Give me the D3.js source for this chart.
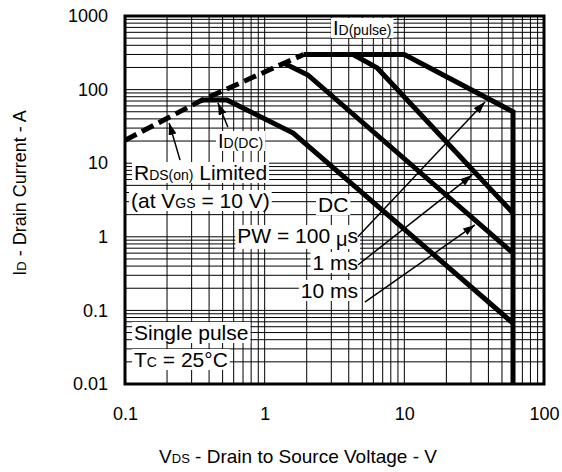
<!DOCTYPE html>
<html>
<head>
<meta charset="utf-8">
<script src="https://cdn.jsdelivr.net/npm/d3@7"></script>
<style>
  body { margin: 0; background: #fff; }
  text { font-family: "Liberation Sans", Arial, sans-serif; fill: #000; }
</style>
</head>
<body>
<script>
// tick labels
const xTicks = [0.1, 1, 10, 100];
const yTicks = [0.01, 0.1, 1, 10, 100, 1000];

// safe operating area curves, [VDS, ID]
const rdsLimit = [[0.1, 20.5], [0.356, 72], [1.9, 300]];
const pw100us = [[1.9, 300], [10, 300], [60, 50], [60, 0.01]];
const pw1ms = [[4.3, 300], [6.4, 197], [60, 2.1]];
const pw10ms = [[1.4, 224], [2.04, 158], [60, 0.6]];
const dcLine = [[0.356, 72], [0.537, 72], [1.6, 25.7], [60, 0.067]];

// arrows [tail, tip]
const arrows = [
  [[0.248, 11.0], [0.207, 35.2]],
  [[0.545, 31], [0.463, 65.8]],
  [[4.65, 1.0], [37.8, 67.8]],
  [[4.65, 0.414], [30.5, 6.9]],
  [[5.22, 0.13], [32, 1.45]]
];

const svgWidth = 562;
const svgHeight = 472;

const svg = d3.select("body")
    .append("svg")
    .attr("width", svgWidth)
    .attr("height", svgHeight);

const x = d3.scaleLog().domain([0.1, 100]).range([125, 544]);
const y = d3.scaleLog().domain([0.01, 1000]).range([384, 16]);

svg.append("clipPath").attr("id", "plot")
    .append("rect")
    .attr("x", 125).attr("y", 16)
    .attr("width", 419).attr("height", 368);

// grid
const grid = svg.append("g").attr("stroke", "#000").attr("stroke-width", 1);
grid.selectAll(".vx")
    .data(x.ticks())
    .enter()
    .append("line")
    .attr("x1", d => x(d)).attr("x2", d => x(d))
    .attr("y1", y(1000)).attr("y2", y(0.01));
grid.selectAll(".hy")
    .data(y.ticks())
    .enter()
    .append("line")
    .attr("y1", d => y(d)).attr("y2", d => y(d))
    .attr("x1", x(0.1)).attr("x2", x(100));

const line = d3.line().x(d => x(d[0])).y(d => y(d[1]));

const curves = svg.append("g").attr("clip-path", "url(#plot)");
[pw100us, pw1ms, pw10ms, dcLine].forEach(c => {
    curves.append("path")
        .attr("d", line(c))
        .attr("fill", "none")
        .attr("stroke", "#000")
        .attr("stroke-width", 5)
        .attr("stroke-linejoin", "miter");
});
curves.append("path")
    .attr("d", line(rdsLimit))
    .attr("fill", "none")
    .attr("stroke", "#000")
    .attr("stroke-width", 5)
    .attr("stroke-dasharray", "13,6");

// text labels with white backing
function label(px, py, parts, anchor, size) {
    const g = svg.append("g");
    const t = g.append("text")
        .attr("x", px).attr("y", py)
        .attr("text-anchor", anchor || "start");
    parts.forEach(p => {
        const s = t.append("tspan")
            .attr("font-size", p[1] || size)
            .text(p[0]);
        if (p[2]) s.attr("dy", p[2]);
    });
    const b = t.node().getBBox();
    g.insert("rect", "text")
        .attr("x", b.x - 2).attr("y", b.y + 1)
        .attr("width", b.width + 4).attr("height", b.height - 2)
        .attr("fill", "#fff");
}

label(333, 35, [["I", 20], ["D(pulse)", 14]]);
label(218, 148, [["I", 20], ["D(DC)", 14]]);
label(134, 180, [["R", 21], ["DS(on)", 14], [" Limited", 21]]);
label(131, 208, [["(at V", 21], ["GS", 14], [" = 10 V)", 21]]);
label(318, 212, [["DC", 21]]);
label(358, 243, [["PW = 100 ", 21], ["\u03bc", 20, 3], ["s", 21, -3]], "end");
label(358, 270, [["1 ms", 21]], "end");
label(358, 298, [["10 ms", 21]], "end");
label(134, 340, [["Single pulse", 21]]);
label(134, 367, [["T", 21], ["C", 14], [" = 25\u00b0C", 21]]);

// arrows
svg.append("defs").append("marker")
    .attr("id", "head")
    .attr("viewBox", "0 0 12 8")
    .attr("refX", 12).attr("refY", 4)
    .attr("markerWidth", 12).attr("markerHeight", 8)
    .attr("markerUnits", "userSpaceOnUse")
    .attr("orient", "auto")
    .append("path")
    .attr("d", "M0,0L12,4L0,8Z")
    .attr("fill", "#000");

svg.selectAll(".arrow")
    .data(arrows)
    .enter()
    .append("line")
    .attr("x1", d => x(d[0][0])).attr("y1", d => y(d[0][1]))
    .attr("x2", d => x(d[1][0])).attr("y2", d => y(d[1][1]))
    .attr("stroke", "#000")
    .attr("stroke-width", 1.5)
    .attr("marker-end", "url(#head)");

// frame
svg.append("rect")
    .attr("x", 125).attr("y", 16)
    .attr("width", 419).attr("height", 368)
    .attr("fill", "none")
    .attr("stroke", "#000")
    .attr("stroke-width", 3);

// axes
const xAxis = svg.append("g")
    .attr("transform", "translate(0,384)")
    .call(d3.axisBottom(x).tickValues(xTicks).tickSize(0).tickPadding(23).tickFormat(d => String(d)));
xAxis.select(".domain").remove();
xAxis.selectAll("text").attr("font-size", 18).attr("font-family", "Liberation Sans, Arial, sans-serif").attr("fill", "#000");

const yAxis = svg.append("g")
    .attr("transform", "translate(125,0)")
    .call(d3.axisLeft(y).tickValues(yTicks).tickSize(0).tickPadding(17).tickFormat(d => String(d)));
yAxis.select(".domain").remove();
yAxis.selectAll("text").attr("font-size", 18).attr("font-family", "Liberation Sans, Arial, sans-serif").attr("fill", "#000");

// axis titles
const xt = svg.append("text")
    .attr("x", 298).attr("y", 463)
    .attr("text-anchor", "middle");
xt.append("tspan").attr("font-size", 19).text("V");
xt.append("tspan").attr("font-size", 13).text("DS");
xt.append("tspan").attr("font-size", 19).text(" - Drain to Source Voltage - V");

const yt = svg.append("text")
    .attr("transform", "translate(26,193) rotate(-90)")
    .attr("text-anchor", "middle");
yt.append("tspan").attr("font-size", 18).text("I");
yt.append("tspan").attr("font-size", 13).text("D");
yt.append("tspan").attr("font-size", 18).text(" - Drain Current - A");
</script>
</body>
</html>
